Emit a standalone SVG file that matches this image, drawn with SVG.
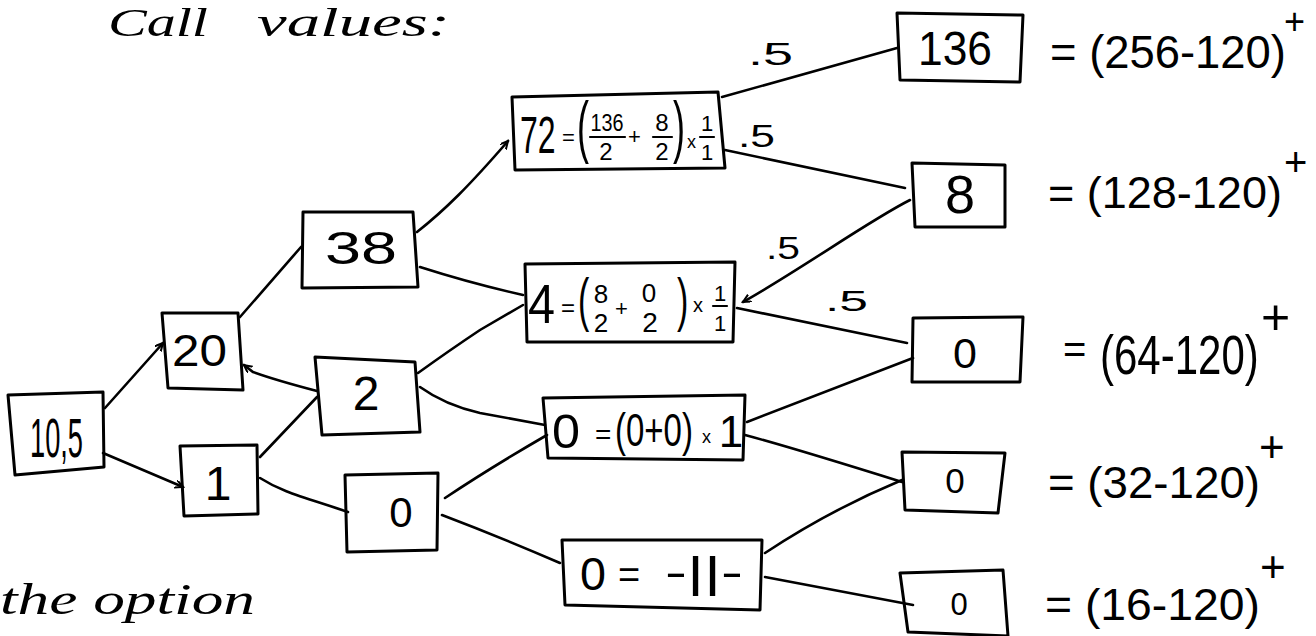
<svg xmlns="http://www.w3.org/2000/svg" width="1316" height="636" viewBox="0 0 1316 636">
<style>
.box{fill:none;stroke:#000;stroke-width:3;stroke-linejoin:round;stroke-linecap:round}
.ln{fill:none;stroke:#000;stroke-width:2.6;stroke-linecap:round}
.bar{stroke:#000;stroke-width:2.2;stroke-linecap:round}
.t{font-family:"Liberation Sans",Arial,sans-serif;fill:#000}
.c{text-anchor:middle}
.hand{font-family:"Liberation Serif","Times New Roman",serif;font-style:italic;fill:#000}
</style>
<defs>
<marker id="ah" markerWidth="10" markerHeight="10" refX="8" refY="4" orient="auto" markerUnits="userSpaceOnUse">
<path d="M0,0 L8,4 L0,8" fill="none" stroke="#000" stroke-width="2"/>
</marker>
</defs>
<rect width="1316" height="636" fill="#fff"/>

<g id="title">
<text class="hand" x="108" y="36" font-size="40" textLength="100" lengthAdjust="spacingAndGlyphs">Call</text>
<text class="hand" x="257" y="36" font-size="40" textLength="193" lengthAdjust="spacingAndGlyphs">values:</text>
</g>
<g id="note">
<text class="hand" x="0" y="614" font-size="44" textLength="255" lengthAdjust="spacingAndGlyphs">the option</text>
</g>

<g id="connectors">
<path class="ln" d="M105,408 L163,343" marker-end="url(#ah)"/>
<path class="ln" d="M103,453 L183,487" marker-end="url(#ah)"/>
<path class="ln" d="M240,317 L301,247"/>
<path class="ln" d="M317,391 Q275,380 253,372 L244,365" marker-end="url(#ah)"/>
<path class="ln" d="M260,457 L317,397"/>
<path class="ln" d="M260,478 C282,492 300,496 348,512"/>
<path class="ln" d="M417,232 C445,210 470,185 508,141" marker-end="url(#ah)"/>
<path class="ln" d="M420,267 Q470,283 523,295"/>
<path class="ln" d="M418,373 Q450,350 480,330 L523,305"/>
<path class="ln" d="M420,387 Q445,405 480,413 L545,425"/>
<path class="ln" d="M445,498 Q490,468 547,435"/>
<path class="ln" d="M442,515 Q500,537 560,563"/>
<path class="ln" d="M722,97 L897,48"/>
<path class="ln" d="M725,150 Q820,170 905,188"/>
<path class="ln" d="M910,200 C870,220 800,270 743,302" marker-end="url(#ah)"/>
<path class="ln" d="M737,308 L907,343"/>
<path class="ln" d="M747,422 L913,358"/>
<path class="ln" d="M745,435 Q790,447 902,482"/>
<path class="ln" d="M765,553 Q830,510 902,480"/>
<path class="ln" d="M765,577 L913,605"/>
<text class="t" x="748" y="65" font-size="32" textLength="45" lengthAdjust="spacingAndGlyphs">.5</text>
<text class="t" x="738" y="147" font-size="32" textLength="37" lengthAdjust="spacingAndGlyphs">.5</text>
<text class="t" x="766" y="259" font-size="32" textLength="34" lengthAdjust="spacingAndGlyphs">.5</text>
<text class="t" x="825" y="311" font-size="30" textLength="43" lengthAdjust="spacingAndGlyphs">.5</text>
</g>

<g id="n105">
<path class="box" d="M8,395 L103,392 L104,467 L15,475 Z"/>
<text class="t" x="30" y="457" font-size="56" textLength="53" lengthAdjust="spacingAndGlyphs">10,5</text>
</g>
<g id="n20">
<path class="box" d="M162,313 L238,313 L243,390 L168,388 Z"/>
<text class="t" x="172" y="366" font-size="45" textLength="55" lengthAdjust="spacingAndGlyphs">20</text>
</g>
<g id="n1">
<path class="box" d="M180,446 L257,445 L258,514 L184,516 Z"/>
<text class="t c" x="218" y="500" font-size="48">1</text>
</g>
<g id="n38">
<path class="box" d="M303,212 L413,212 L418,287 L302,288 Z"/>
<text class="t" x="325" y="264" font-size="46" textLength="72" lengthAdjust="spacingAndGlyphs">38</text>
</g>
<g id="n2">
<path class="box" d="M315,357 L415,362 L420,432 L322,435 Z"/>
<text class="t c" x="366" y="410" font-size="48">2</text>
</g>
<g id="n0a">
<path class="box" d="M345,475 L438,473 L437,550 L347,552 Z"/>
<text class="t c" x="401" y="527" font-size="42">0</text>
</g>

<g id="n72">
<path class="box" d="M512,97 L718,92 L725,168 L515,170 Z"/>
<text class="t" transform="translate(520,153) scale(1,1.6)" font-size="32">72</text>
<text class="t" x="562" y="145" font-size="22">=</text>
<text class="t" transform="translate(577,150) scale(1,1.9)" font-size="36">(</text>
<text class="t c" x="607" y="131" font-size="24" textLength="33" lengthAdjust="spacingAndGlyphs">136</text>
<line class="bar" x1="590" y1="137" x2="625" y2="137"/>
<text class="t c" x="606" y="160" font-size="24">2</text>
<text class="t" x="628" y="144" font-size="22">+</text>
<text class="t c" x="662" y="131" font-size="24">8</text>
<line class="bar" x1="653" y1="137" x2="672" y2="137"/>
<text class="t c" x="662" y="160" font-size="24">2</text>
<text class="t" transform="translate(673,150) scale(1,1.9)" font-size="36">)</text>
<text class="t" x="687" y="148" font-size="18">x</text>
<text class="t c" x="707" y="131" font-size="22">1</text>
<line class="bar" x1="700" y1="137" x2="714" y2="137"/>
<text class="t c" x="707" y="160" font-size="22">1</text>
</g>

<g id="n4">
<path class="box" d="M525,264 L735,262 L733,342 L527,342 Z"/>
<text class="t" x="528" y="323" font-size="55" textLength="27" lengthAdjust="spacingAndGlyphs">4</text>
<text class="t" x="561" y="316" font-size="24">=</text>
<text class="t" transform="translate(578,320) scale(1,1.75)" font-size="34">(</text>
<text class="t c" x="601" y="303" font-size="26">8</text>
<text class="t c" x="601" y="332" font-size="26">2</text>
<text class="t" x="615" y="316" font-size="22">+</text>
<text class="t c" x="649" y="302" font-size="26">0</text>
<text class="t c" x="650" y="332" font-size="28">2</text>
<text class="t" transform="translate(677,320) scale(1,1.75)" font-size="34">)</text>
<text class="t" x="693" y="312" font-size="20">x</text>
<text class="t c" x="720" y="301" font-size="22">1</text>
<line class="bar" x1="713" y1="306" x2="727" y2="306"/>
<text class="t c" x="720" y="331" font-size="22">1</text>
</g>

<g id="n00">
<path class="box" d="M543,398 L745,395 L743,460 L548,458 Z"/>
<text class="t" x="552" y="448" font-size="48" textLength="28" lengthAdjust="spacingAndGlyphs">0</text>
<text class="t" x="595" y="444" font-size="28">=</text>
<text class="t" transform="translate(615,446) scale(1,1.4)" font-size="33">(0+0)</text>
<text class="t" x="702" y="443" font-size="18">x</text>
<text class="t c" x="731" y="447" font-size="44">1</text>
</g>

<g id="n0eq">
<path class="box" d="M562,540 L762,540 L760,610 L565,605 Z"/>
<text class="t" x="580" y="590" font-size="46" textLength="26" lengthAdjust="spacingAndGlyphs">0</text>
<text class="t" x="618" y="588" font-size="38">=</text>
<text class="t" x="665" y="587" font-size="42" textLength="78" lengthAdjust="spacingAndGlyphs">-||-</text>
</g>

<g id="n136">
<path class="box" d="M897,13 L1023,15 L1020,82 L900,80 Z"/>
<text class="t" x="918" y="65" font-size="48" textLength="74" lengthAdjust="spacingAndGlyphs">136</text>
<text class="t" x="1050" y="68" font-size="46" textLength="236" lengthAdjust="spacingAndGlyphs">= (256-120)</text>
<text class="t" x="1284" y="34" font-size="36">+</text>
</g>

<g id="n8">
<path class="box" d="M912,163 L1005,165 L1005,227 L915,227 Z"/>
<text class="t c" x="960" y="213" font-size="54">8</text>
<text class="t" x="1048" y="208" font-size="45">= (128-120)</text>
<text class="t" x="1284" y="176" font-size="40">+</text>
</g>

<g id="n064">
<path class="box" d="M913,318 L1023,317 L1020,382 L912,382 Z"/>
<text class="t c" x="965" y="368" font-size="43">0</text>
<text class="t" x="1063" y="363" font-size="40">=</text>
<text class="t" transform="translate(1100,374) scale(1,1.33)" font-size="42">(64-120)</text>
<text class="t" x="1261" y="334" font-size="50">+</text>
</g>

<g id="n032">
<path class="box" d="M902,452 L1005,453 L998,513 L905,510 Z"/>
<text class="t c" x="955" y="493" font-size="35">0</text>
<text class="t" x="1048" y="498" font-size="44" textLength="212" lengthAdjust="spacingAndGlyphs">= (32-120)</text>
<text class="t" x="1259" y="462" font-size="44">+</text>
</g>

<g id="n016">
<path class="box" d="M900,573 L1003,570 L1008,636 L908,632 Z"/>
<text class="t c" x="959" y="615" font-size="31">0</text>
<text class="t" x="1045" y="620" font-size="44" textLength="215" lengthAdjust="spacingAndGlyphs">= (16-120)</text>
<text class="t" x="1260" y="582" font-size="44">+</text>
</g>
</svg>
